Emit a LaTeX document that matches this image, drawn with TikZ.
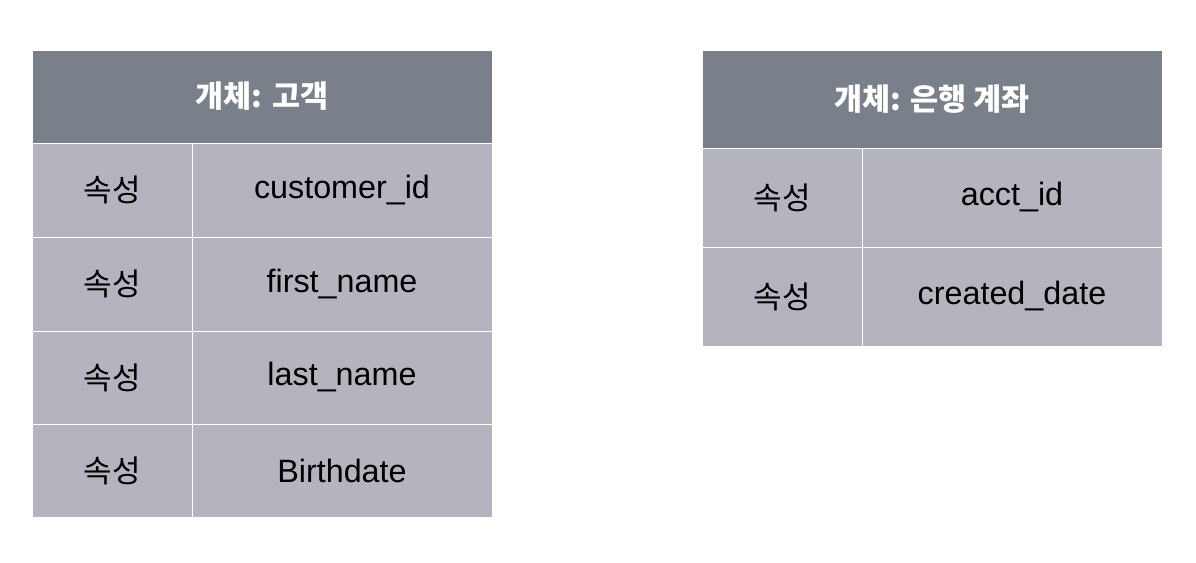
\documentclass[tikz,border=0pt]{standalone}
\usepackage{fontspec}
\setmainfont{Liberation Sans}
\newfontfamily\kr{Noto Sans CJK KR}
\usepackage{tikz}
\usetikzlibrary{positioning}
\definecolor{hdrgray}{RGB}{122,128,137}
\definecolor{cellgray}{RGB}{180,180,190}
\tikzstyle{hdr} = [rectangle, draw=white, line width=1pt, fill=hdrgray, outer sep=0pt, inner sep=0pt, text=white, font=\kr\bfseries\fontsize{30.5}{36}\selectfont]
\tikzstyle{key} = [rectangle, draw=white, line width=1pt, fill=cellgray, outer sep=0pt, inner sep=0pt, minimum width=160pt, font=\kr\fontsize{31}{36}\selectfont]
\tikzstyle{val} = [rectangle, draw=white, line width=1pt, fill=cellgray, outer sep=0pt, inner sep=0pt, minimum width=300pt, font=\fontsize{32.3}{38}\selectfont]

\begin{document}
\begin{tikzpicture}[x=1pt, y=-1pt]
\useasboundingbox (0,0) rectangle (1196,562);

% entity: customer
\node [hdr, minimum width=460pt, minimum height=93pt, anchor=north west] (ca) at (32,50) {개체: 고객};
\node [key, minimum height=94pt] (ca1k) [below=0pt of ca.south west, anchor=north west] {속성};
\node [val, minimum height=94pt] (ca1v) [right=0pt of ca1k] {customer\_id};
\node [key, minimum height=94pt] (ca2k) [below=0pt of ca1k] {속성};
\node [val, minimum height=94pt] (ca2v) [right=0pt of ca2k] {first\_name};
\node [key, minimum height=93pt] (ca3k) [below=0pt of ca2k] {속성};
\node [val, minimum height=93pt] (ca3v) [right=0pt of ca3k] {last\_name};
\node [key, minimum height=93pt] (ca4k) [below=0pt of ca3k] {속성};
\node [val, minimum height=93pt] (ca4v) [right=0pt of ca4k] {Birthdate};

% entity: bank account
\node [hdr, minimum width=460pt, minimum height=98pt, anchor=north west] (ba) at (702,50) {개체: 은행 계좌};
\node [key, minimum height=99pt] (ba1k) [below=0pt of ba.south west, anchor=north west] {속성};
\node [val, minimum height=99pt] (ba1v) [right=0pt of ba1k] {acct\_id};
\node [key, minimum height=99pt] (ba2k) [below=0pt of ba1k] {속성};
\node [val, minimum height=99pt] (ba2v) [right=0pt of ba2k] {created\_date};

\end{tikzpicture}
\end{document}
